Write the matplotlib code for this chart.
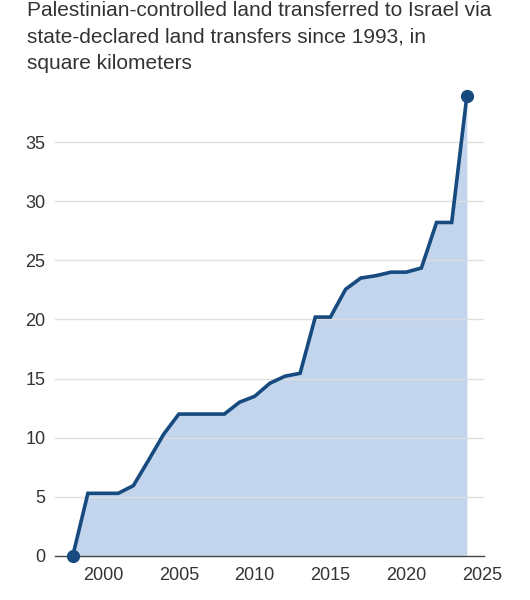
import matplotlib
matplotlib.use("Agg")
import matplotlib.pyplot as plt

years = [1998, 1999, 2000, 2001, 2002, 2003, 2004, 2005, 2006, 2007, 2008,
         2009, 2010, 2011, 2012, 2013, 2014, 2015, 2016, 2017, 2018, 2019,
         2020, 2021, 2022, 2023, 2024]
area_km2 = [0.0, 5.3, 5.3, 5.3, 5.95, 8.1, 10.3, 12.0, 12.0, 12.0, 12.0,
            13.0, 13.5, 14.6, 15.2, 15.45, 20.2, 20.2, 22.55, 23.5, 23.7, 24.0,
            24.0, 24.35, 28.2, 28.2, 38.9]
y_ticks = [0, 5, 10, 15, 20, 25, 30, 35]
x_ticks = [2000, 2005, 2010, 2015, 2020, 2025]
title = ("Palestinian-controlled land transferred to Israel via\n"
         "state-declared land transfers since 1993, in\n"
         "square kilometers")

plt.rcParams['font.family'] = ['Liberation Sans', 'DejaVu Sans']

line_color = "#174a7e"
fill_color = "#c3d5ed"
text_color = "#333333"

fig = plt.figure(figsize=(5.3, 6.0), dpi=100)
ax = fig.add_axes([55/530, 44/600, (484-55)/530, (556-90)/600])

ax.fill_between(years, area_km2, 0, color=fill_color, linewidth=0, zorder=1)
ax.plot(years, area_km2, color=line_color, linewidth=2.6, solid_joinstyle='miter', zorder=3)
ax.plot([years[0], years[-1]], [area_km2[0], area_km2[-1]], 'o',
        color=line_color, markersize=8.5, zorder=4, clip_on=False)

ax.set_xlim(1996.83, 2025.13)
ax.set_ylim(0, 39.4)
ax.set_yticks(y_ticks)
ax.set_xticks(x_ticks)
ax.grid(axis='y', color='#dddddd', linewidth=1.0, zorder=2)
ax.set_axisbelow(False)
for gl in ax.get_ygridlines():
    gl.set_zorder(2)
    gl.set_alpha(0.9)

for s in ['top', 'right', 'left']:
    ax.spines[s].set_visible(False)
ax.spines['bottom'].set_color('#444444')
ax.spines['bottom'].set_linewidth(1.0)
ax.spines['bottom'].set_zorder(2)

ax.tick_params(axis='both', length=0, labelsize=13, labelcolor=text_color)
ax.tick_params(axis='x', pad=8)
ax.tick_params(axis='y', pad=7)

fig.text(27/530, 1 - 1/600, title, ha='left', va='top', fontsize=15,
         color=text_color, linespacing=1.5)

fig.savefig("out.png", dpi=100)
